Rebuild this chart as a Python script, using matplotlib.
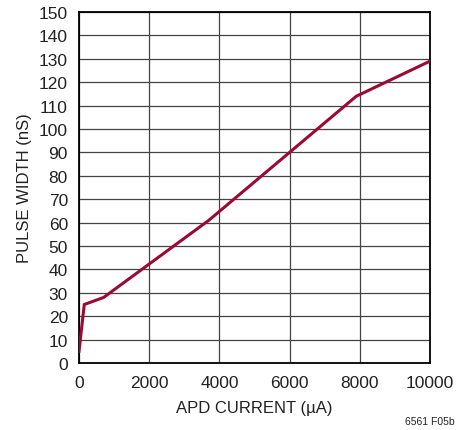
import matplotlib
matplotlib.use("Agg")
import matplotlib.pyplot as plt
from matplotlib import font_manager

names = {f.name for f in font_manager.fontManager.ttflist}
fam = ["Liberation Sans Narrow", "DejaVu Sans"] if "Liberation Sans Narrow" in names else ["Liberation Sans", "DejaVu Sans"]
plt.rcParams['font.family'] = fam

apd_current = [0, 150, 700, 3700, 7900, 10000]
pulse_width = [5, 25, 28, 61, 114, 129]
x_ticks = [0, 2000, 4000, 6000, 8000, 10000]
y_ticks = list(range(0, 151, 10))

fig = plt.figure(figsize=(4.68, 4.31), dpi=100)
ax = fig.add_axes([79/468, (431-364)/431, (430-79)/468, (364-13)/431])

ax.plot(apd_current, pulse_width, color="#9b0a35", lw=2.2, solid_joinstyle="miter", zorder=3)
ax.set_xlim(0, 10000)
ax.set_ylim(0, 150)
ax.set_xticks(x_ticks)
ax.set_yticks(y_ticks)
ax.tick_params(length=0, labelsize=12.5, colors="#222222")
ax.tick_params(axis="x", pad=9)
ax.tick_params(axis="y", pad=8)
ax.grid(True, color="#444444", lw=0.9)
ax.set_axisbelow(True)
for s in ax.spines.values():
    s.set_linewidth(1.3)
    s.set_color("black")
ax.set_xlabel("APD CURRENT (\u00b5A)", fontsize=12, color="#222222", labelpad=7)
ax.set_ylabel("PULSE WIDTH (nS)", fontsize=12, color="#222222", labelpad=5)
fig.text(455/468, 1 - 422/431, "6561 F05b", fontsize=7.5, ha="right", va="center", color="#222222")

fig.savefig("out.png", dpi=100)
